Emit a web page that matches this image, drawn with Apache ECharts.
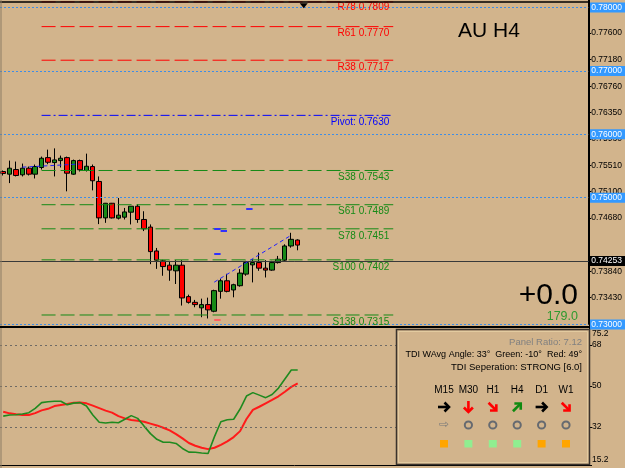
<!DOCTYPE html>
<html>
<head>
<meta charset="utf-8">
<script src="https://cdn.jsdelivr.net/npm/echarts@6/dist/echarts.min.js"></script>
<style>
  html, body, #main { width: 100%; height: 100%; margin: 0; padding: 0; background: #d2b48c; }
</style>
</head>
<body>
<div id="main"></div>
<script>
// ---- chart values (AUDUSD H4) ----
var opens  = [0.75414,0.75372,0.75445,0.75362,0.75466,0.75372,0.75477,0.75633,0.75555,0.75586,0.75633,0.75372,0.75586,0.75430,0.75492,0.75257,0.74682,0.74913,0.74678,0.74693,0.74772,0.74866,0.74657,0.74537,0.74160,0.74004,0.73936,0.73847,0.73936,0.73440,0.73350,0.73263,0.73314,0.73209,0.73523,0.73690,0.73545,0.73612,0.73795,0.73941,0.73977,0.73889,0.73858,0.73977,0.74015,0.74239,0.74333];
var closes = [0.75383,0.75466,0.75351,0.75466,0.75372,0.75492,0.75623,0.75560,0.75597,0.75623,0.75387,0.75586,0.75441,0.75497,0.75268,0.74682,0.74913,0.74682,0.74725,0.74776,0.74866,0.74657,0.74510,0.74150,0.74015,0.73914,0.73858,0.73936,0.73419,0.73350,0.73314,0.73314,0.73231,0.73534,0.73690,0.73523,0.73628,0.73811,0.73977,0.73977,0.73889,0.73858,0.73977,0.74030,0.74239,0.74344,0.74253];
var lows   = [0.75351,0.75231,0.75336,0.75336,0.75351,0.75304,0.75445,0.75529,0.75336,0.75477,0.75101,0.75362,0.75414,0.75414,0.75116,0.74584,0.74604,0.74673,0.74657,0.74657,0.74579,0.74604,0.74474,0.73952,0.73878,0.73769,0.73690,0.73639,0.73299,0.73330,0.73272,0.73115,0.73095,0.73193,0.73408,0.73507,0.73429,0.73597,0.73769,0.73664,0.73847,0.73742,0.73847,0.73962,0.74004,0.74212,0.74171];
var highs  = [0.75430,0.75586,0.75571,0.75539,0.75492,0.75524,0.75649,0.75759,0.75779,0.75665,0.75649,0.75602,0.75602,0.75696,0.75524,0.75336,0.74918,0.74918,0.74996,0.74839,0.74866,0.74897,0.74787,0.74579,0.74208,0.74020,0.74004,0.74015,0.74015,0.73471,0.73388,0.73408,0.73424,0.73549,0.73722,0.73800,0.73643,0.73874,0.74004,0.74030,0.74134,0.74015,0.74004,0.74082,0.74265,0.74447,0.74344];

var tdiGreen = [36.8,37.3,37.4,37.7,38.3,40.2,42.7,43.1,43.3,43.3,41.8,42.5,42.7,41.2,37.3,34.1,33.8,34.1,33.9,35.4,37.0,35.8,32.4,29.1,26.6,25.3,25.3,24.8,22.6,21.0,20.9,20.6,20.4,27.8,34.3,35.2,35.4,39.9,45.6,47.1,46.0,44.9,46.3,49.1,53.1,57.0,57.0];
var tdiRed   = [38.7,38.0,37.6,37.3,37.3,38.1,39.3,40.0,41.2,41.7,42.1,42.7,42.8,42.4,41.4,40.3,39.2,38.3,36.8,35.8,35.1,34.8,34.3,33.5,32.7,31.7,30.5,28.9,27.0,25.0,23.8,22.9,22.3,22.9,24.2,25.7,27.6,30.2,35.5,39.5,40.9,42.4,43.9,45.5,47.5,49.6,51.2];

var pivotNames  = ['R78', 'R61', 'R38', 'Pivot:', 'S38', 'S61', 'S78', 'S100', 'S138'];
var pivotValues = [0.7809, 0.7770, 0.7717, 0.7630, 0.7543, 0.7489, 0.7451, 0.7402, 0.7315];
var roundLevels = [0.78, 0.77, 0.76, 0.75, 0.74, 0.73];
var priceTicks  = [0.7760, 0.7718, 0.7676, 0.7635, 0.7593, 0.7551, 0.7510, 0.7468, 0.7384, 0.7343];
var lastPrice   = 0.74253;
var tdiTicks    = [75.2, 68, 50, 32, 15.2];
var tdiLevels   = [68, 50, 32];

var timeframes  = ['M15', 'M30', 'H1', 'H4', 'D1', 'W1'];
var tfArrowDeg  = [0, -90, -45, 45, 0, -45];
var tfArrowCol  = ['#000000', '#ff0000', '#ff0000', '#108a10', '#000000', '#ff0000'];
var tfSquareCol = ['#ffa500', '#90ee90', '#90ee90', '#90ee90', '#ffa500', '#ffa500'];

var slots = 92;
var cats = [];
for (var i = 0; i < slots; i++) cats.push(String(i));

var candles = [];
for (var i = 0; i < opens.length; i++) {
    candles.push([opens[i], closes[i], lows[i], highs[i]]);
}

var font = "'Liberation Sans', Arial, sans-serif";

// horizontal levels (round numbers + last price)
var levelLines = [];
roundLevels.forEach(function (v) {
    levelLines.push({
        yAxis: v,
        lineStyle: { type: [2, 2], color: '#3d8de8', width: 1 },
        label: { show: true, position: 'end', distance: 1, formatter: v.toFixed(5),
                 backgroundColor: '#3399ff', color: '#ffffff', padding: [1, 6, 0, 2],
                 fontSize: 8.5, fontFamily: font }
    });
});
levelLines.push({
    yAxis: lastPrice,
    lineStyle: { type: 'solid', color: '#3a3a3a', width: 1 },
    label: { show: true, position: 'end', distance: 1, formatter: lastPrice.toFixed(5),
             backgroundColor: '#000000', color: '#ffffff', padding: [1, 6, 0, 2],
             fontSize: 8.5, fontFamily: font }
});

// short marker segments drawn through markLine
function segSeries(a, pa, b, pb, col, w, dash) {
    return {
        type: 'line', xAxisIndex: 0, yAxisIndex: 0, data: [], silent: true,
        markLine: {
            symbol: 'none', silent: true, animation: false,
            lineStyle: { color: col, width: w, type: dash },
            label: { show: false },
            data: [[{ coord: [cats[a], pa] }, { coord: [cats[b], pb] }]]
        }
    };
}

var series = [
    {
        type: 'candlestick', xAxisIndex: 0, yAxisIndex: 0,
        data: candles, barWidth: 5,
        itemStyle: { color: '#178a17', color0: '#ff0000', borderColor: '#000', borderColor0: '#000', borderWidth: 1 }
    },
    {
        type: 'line', xAxisIndex: 0, yAxisIndex: 0, data: [], silent: true,
        markLine: { symbol: 'none', silent: true, animation: false, data: levelLines },
        markPoint: { symbol: 'triangle', symbolRotate: 180, symbolSize: [8, 5], silent: true,
                     itemStyle: { color: '#000' }, label: { show: false },
                     data: [{ coord: [cats[47], 0.78031] }] }
    }
];
// pivot / fibo levels as plain line series, label via a zero-size markPoint
pivotValues.forEach(function (v, k) {
    var col = k < 3 ? '#ff0000' : (k === 3 ? '#0000ff' : '#168a16');
    var dash = k === 3 ? [9, 3, 2, 3] : [14, 5];
    series.push({
        type: 'line', xAxisIndex: 0, yAxisIndex: 0, silent: true,
        data: [[cats[6], v], [cats[61], v]],
        symbol: 'none', lineStyle: { color: col, width: 1, type: dash },
        markPoint: {
            symbol: 'circle', symbolSize: 0, silent: true,
            data: [{ coord: [cats[61], v] }],
            label: { show: true, position: 'left', distance: 4, offset: [0, k === 0 ? 5 : 7],
                     formatter: pivotNames[k] + ' ' + v.toFixed(4), color: col,
                     fontSize: 10, fontFamily: font }
        }
    });
});
series.push(segSeries(3, 0.75483, 12, 0.75532, '#2020ff', 1, [4, 3]));
series.push(segSeries(33, 0.73668, 45, 0.74406, '#2020ff', 1, [4, 3]));
series.push(segSeries(33, 0.74516, 34, 0.74516, '#3030ff', 2, 'solid'));
series.push(segSeries(34, 0.74485, 35, 0.74485, '#3030ff', 2, 'solid'));
series.push(segSeries(33, 0.74109, 34, 0.74109, '#3030ff', 2, 'solid'));
series.push(segSeries(38, 0.74834, 39, 0.74834, '#3030ff', 2, 'solid'));
series.push(segSeries(33, 0.73075, 34, 0.73075, '#ff6060', 2, 'solid'));

series.push({
    type: 'line', xAxisIndex: 1, yAxisIndex: 1, data: tdiRed,
    showSymbol: false, lineStyle: { color: '#ff1a1a', width: 2 },
    markLine: { symbol: 'none', silent: true, label: { show: false },
                lineStyle: { type: [2, 3], color: '#6e6a64', width: 1 },
                data: tdiLevels.map(function (v) { return { yAxis: v }; }) }
});
series.push({
    type: 'line', xAxisIndex: 1, yAxisIndex: 1, data: tdiGreen,
    showSymbol: false, lineStyle: { color: '#1f8a1f', width: 1.6 }
});

// right-bottom panel
var PZ = 100;
var panel = [
    { type: 'rect', z: PZ, shape: { x: 396.5, y: 329.5, width: 193, height: 135 },
      style: { fill: '#d2b48c', stroke: '#3a332c', lineWidth: 1.5 } },
    { type: 'rect', z: PZ, shape: { x: 398.5, y: 331.5, width: 189, height: 131 },
      style: { fill: 'none', stroke: '#e3cba0', lineWidth: 1 } },
    { type: 'text', z: PZ, x: 582, y: 342, style: { text: 'Panel Ratio: 7.12', fill: '#808080', font: '9.5px ' + font, align: 'right', verticalAlign: 'middle' } },
    { type: 'text', z: PZ, x: 582, y: 354.5, style: { text: 'TDI WAvg Angle: 33°  Green: -10°  Red: 49°', fill: '#000', font: '9px ' + font, align: 'right', verticalAlign: 'middle' } },
    { type: 'text', z: PZ, x: 582, y: 367, style: { text: 'TDI Seperation: STRONG [6.0]', fill: '#000', font: '9.5px ' + font, align: 'right', verticalAlign: 'middle' } }
];
timeframes.forEach(function (tf, k) {
    var cx = 444 + k * 24.4;
    panel.push({ type: 'text', z: PZ, x: cx, y: 390, style: { text: tf, fill: '#000', font: '10px ' + font, align: 'center', verticalAlign: 'middle' } });
    var col = tfArrowCol[k];
    panel.push({ type: 'group', x: cx, y: 407, rotation: tfArrowDeg[k] * Math.PI / 180, children: [
        { type: 'polyline', z: PZ, shape: { points: [[-6, 0], [4.5, 0]] }, style: { stroke: col, lineWidth: 2.6, fill: null } },
        { type: 'polyline', z: PZ, shape: { points: [[0.5, -4.5], [5, 0], [0.5, 4.5]] }, style: { stroke: col, lineWidth: 2.6, fill: null } }
    ] });
    if (k === 0) {
        panel.push({ type: 'text', z: PZ, x: cx, y: 425, style: { text: '⇨', fill: '#7a7a7a', font: '12px DejaVu Sans', align: 'center', verticalAlign: 'middle' } });
    } else {
        panel.push({ type: 'circle', z: PZ, shape: { cx: cx, cy: 425, r: 3.6 }, style: { fill: null, stroke: '#666a70', lineWidth: 2 } });
    }
    panel.push({ type: 'rect', z: PZ, shape: { x: cx - 4, y: 440, width: 8, height: 7.5 }, style: { fill: tfSquareCol[k] } });
});

var chart = echarts.init(document.getElementById('main'));

chart.setOption({
    backgroundColor: '#d2b48c',
    animation: false,
    grid: [
        // 6400 px per price unit: 0.78 sits at y=4.5, 0.73 at y=324.5
        { left: 0, right: 36, top: -3.18, height: 327.68 },
        { left: 0, right: 36, top: 328.6, height: 136.7 }
    ],
    xAxis: [
        { type: 'category', data: cats, gridIndex: 0, show: false },
        { type: 'category', data: cats, gridIndex: 1,
          axisLine: { lineStyle: { color: '#000', width: 1 } },
          axisTick: { length: 3, lineStyle: { color: '#000' }, interval: function (idx) { return idx % 8 === 5; } },
          axisLabel: { show: false } }
    ],
    yAxis: [
        { type: 'value', gridIndex: 0, position: 'right', min: 0.73, max: 0.7812,
          splitLine: { show: false },
          axisLine: { show: true, lineStyle: { color: '#000' } },
          axisTick: { show: true, length: 3, customValues: priceTicks, lineStyle: { color: '#000' } },
          axisLabel: { customValues: priceTicks, margin: 3, color: '#000', fontSize: 8.5, fontFamily: font,
                       formatter: function (v) { return v.toFixed(5); } } },
        { type: 'value', gridIndex: 1, position: 'right', min: 15.2, max: 75.2,
          splitLine: { show: false },
          axisLine: { show: true, lineStyle: { color: '#000' } },
          axisTick: { show: true, length: 3, customValues: tdiTicks, lineStyle: { color: '#000' } },
          axisLabel: { customValues: tdiTicks, margin: 3, color: '#000', fontSize: 8.5, fontFamily: font,
                       formatter: function (v) {
                           if (v === 75.2) return '{t|75.2}';
                           if (v === 15.2) return '{b|15.2}';
                           return String(v);
                       },
                       rich: { t: { padding: [11, 0, 0, 0], fontSize: 8.5, fontFamily: font },
                               b: { padding: [0, 0, 11, 0], fontSize: 8.5, fontFamily: font } } } }
    ],
    series: series,
    graphic: [
        { type: 'line', shape: { x1: 0, y1: 2, x2: 590, y2: 2 }, style: { stroke: '#000', lineWidth: 1.5 }, z: 50 },
        { type: 'line', shape: { x1: 1, y1: 0, x2: 1, y2: 468 }, style: { stroke: '#8c7c64', lineWidth: 1 }, z: 50 },
        { type: 'line', shape: { x1: 0, y1: 327, x2: 590, y2: 327 }, style: { stroke: '#000', lineWidth: 2 }, z: 50 },
        { type: 'line', shape: { x1: 589.5, y1: 0, x2: 589.5, y2: 466 }, style: { stroke: '#000', lineWidth: 1 }, z: 50 },
        { type: 'text', x: 458, y: 31, style: { text: 'AU H4', fill: '#000', font: '21px ' + font, verticalAlign: 'middle' }, z: 50 },
        { type: 'text', x: 578, y: 296, style: { text: '+0.0', fill: '#000', font: '30px ' + font, align: 'right', verticalAlign: 'middle' }, z: 50 },
        { type: 'text', x: 578, y: 317, style: { text: '179.0', fill: '#2f9a2f', font: '12.5px ' + font, align: 'right', verticalAlign: 'middle' }, z: 50 },
        { type: 'group', children: panel }
    ]
});
</script>
</body>
</html>
